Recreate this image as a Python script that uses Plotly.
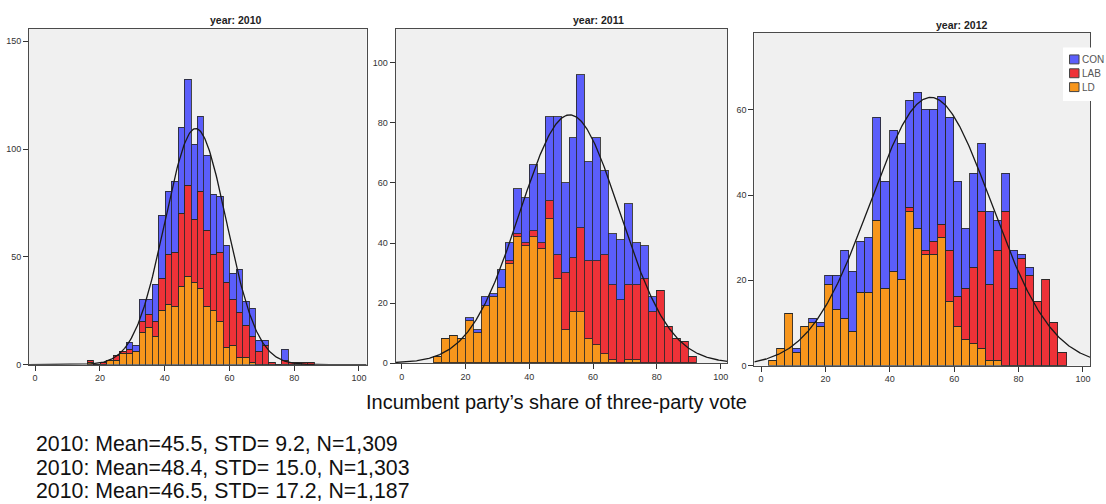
import numpy as np
import plotly.graph_objects as go

W, H = 1106, 504

# ---------------- data ----------------
years = ["2010", "2011", "2012"]
parties = ["CON", "LAB", "LD"]
party_colors = {"CON": "#5B5EFB", "LAB": "#EE3238", "LD": "#F7961C"}

# histogram bins: first bin start and bin width per year
bin_start = {"2010": 16.3, "2011": 10.0, "2012": 2.5}
bin_width = {"2010": 2.0, "2011": 2.5, "2012": 2.5}

ld_2010 = [1, 0, 0, 2, 2, 5, 5, 6, 15, 17, 13, 25, 28, 27, 36, 41, 38, 35, 27, 25, 20, 8, 9, 3, 3, 1, 0, 0, 0, 0, 0, 0, 0, 0, 0]
lab_2010 = [1, 0, 1, 0, 2, 1, 2, 0, 5, 6, 7, 15, 23, 25, 34, 42, 29, 45, 35, 26, 32, 30, 21, 21, 15, 12, 6, 9, 1, 0, 2, 1, 1, 1, 1]
con_2010 = [0, 0, 0, 0, 0, 0, 3, 3, 10, 7, 17, 29, 29, 33, 40, 49, 35, 35, 35, 28, 26, 17, 12, 20, 11, 13, 5, 2, 0, 0, 5, 0, 0, 0, 0]

ld_2011 = [2, 8, 9, 8, 14, 10, 19, 22, 25, 33, 42, 39, 42, 38, 48, 28, 11, 17, 17, 8, 6, 3, 1, 0, 1, 1, 0, 0, 0, 0, 0, 0, 0]
lab_2011 = [0, 0, 0, 0, 0, 0, 0, 0, 0, 1, 1, 1, 2, 2, 6, 8, 19, 18, 28, 26, 28, 33, 25, 21, 25, 25, 28, 17, 24, 12, 8, 7, 2]
con_2011 = [0, 0, 0, 0, 1, 1, 3, 1, 6, 6, 15, 15, 22, 23, 28, 46, 30, 40, 51, 33, 41, 28, 17, 20, 27, 14, 11, 5, 0, 0, 0, 0, 0]

ld_2012 = [1, 4, 12, 3, 9, 10, 9, 19, 13, 11, 8, 17, 17, 34, 18, 22, 20, 36, 32, 26, 26, 30, 15, 9, 6, 5, 4, 1, 1, 0, 0, 0, 0, 0, 0, 0, 0]
lab_2012 = [0, 0, 0, 0, 0, 0, 0, 0, 0, 0, 0, 0, 0, 0, 0, 0, 0, 1, 0, 1, 3, 3, 12, 7, 12, 18, 32, 18, 26, 36, 18, 25, 21, 15, 20, 10, 3]
con_2012 = [0, 0, 0, 1, 0, 1, 1, 2, 8, 16, 14, 12, 13, 24, 25, 33, 32, 25, 32, 33, 31, 30, 31, 27, 14, 22, 16, 17, 7, 9, 9, 1, 2, 0, 0, 0, 0]

counts = {
    "2010": {"CON": con_2010, "LAB": lab_2010, "LD": ld_2010},
    "2011": {"CON": con_2011, "LAB": lab_2011, "LD": ld_2011},
    "2012": {"CON": con_2012, "LAB": lab_2012, "LD": ld_2012},
}

# fitted normal curve: peak height, centre, spread
curve_peak = {"2010": 109.5, "2011": 82.7, "2012": 62.9}
curve_mean = {"2010": 49.6, "2011": 52.7, "2012": 52.7}
curve_sd = {"2010": 9.5, "2011": 15.7, "2012": 18.8}

x_ticks = [0, 20, 40, 60, 80, 100]
y_ticks = {"2010": [0, 50, 100, 150], "2011": [0, 20, 40, 60, 80, 100], "2012": [0, 20, 40, 60]}

x_title = "Incumbent party\u2019s share of three-party vote"
stat_lines = [
    "2010: Mean=45.5, STD= 9.2, N=1,309",
    "2010: Mean=48.4, STD= 15.0, N=1,303",
    "2010: Mean=46.5, STD= 17.2, N=1,187",
]

# ---------------- layout geometry (pixels) ----------------
panels = {
    "2010": dict(x0=29, x1=367, y0=29, y1=368.3, xr=[-1.9, 102.4], yr=[0, 155.8], title=(236.3, 20.5)),
    "2011": dict(x0=396, x1=728, y0=29.3, y1=366.7, xr=[-1.9, 102.1], yr=[0, 111.3], title=(599.3, 20.5)),
    "2012": dict(x0=755, x1=1091, y0=33.3, y1=369.3, xr=[-2.1, 102.2], yr=[0, 78.0], title=(963.2, 25)),
}


def px(x):
    return x / W


def py(y):
    return 1 - y / H


FONT = "Liberation Sans, Arial, sans-serif"
fig = go.Figure()
layout = dict(
    width=W, height=H,
    margin=dict(l=0, r=0, t=0, b=0),
    paper_bgcolor="white",
    plot_bgcolor="#F0F0F0",
    barmode="stack",
    bargap=0,
    showlegend=False,
    font=dict(family=FONT, color="#333333"),
)
annotations = []
shapes = []

for i, yr in enumerate(years):
    p = panels[yr]
    n = i + 1
    xa = "x" if n == 1 else f"x{n}"
    ya = "y" if n == 1 else f"y{n}"
    nbins = len(counts[yr]["LD"])
    bw = bin_width[yr]
    centers = [bin_start[yr] + bw * (k + 0.5) for k in range(nbins)]
    for party in ["LD", "LAB", "CON"]:
        fig.add_trace(go.Bar(
            x=centers, y=counts[yr][party], width=bw,
            marker=dict(color=party_colors[party], line=dict(color="rgba(40,40,40,0.85)", width=1)),
            name=party, xaxis=xa, yaxis=ya, showlegend=False,
        ))
    xs = np.linspace(p["xr"][0], p["xr"][1], 400)
    ys = curve_peak[yr] * np.exp(-0.5 * ((xs - curve_mean[yr]) / curve_sd[yr]) ** 2)
    fig.add_trace(go.Scatter(x=xs, y=ys, mode="lines", line=dict(color="#1a1a1a", width=1.3),
                             xaxis=xa, yaxis=ya, showlegend=False, hoverinfo="skip"))

    axis_common = dict(showgrid=False, zeroline=False, showline=True, mirror=True,
                       linecolor="#4a4a4a", linewidth=1, ticks="outside", ticklen=5,
                       tickcolor="#333333", tickwidth=1,
                       tickfont=dict(family=FONT, size=9, color="#333333"))
    layout["xaxis" if n == 1 else f"xaxis{n}"] = dict(
        domain=[px(p["x0"]), px(p["x1"])], range=p["xr"], anchor=ya,
        tickvals=x_ticks, ticktext=[str(t) for t in x_ticks], **axis_common)
    layout["yaxis" if n == 1 else f"yaxis{n}"] = dict(
        domain=[py(p["y1"]), py(p["y0"])], range=p["yr"], anchor=xa,
        tickvals=y_ticks[yr], ticktext=[str(t) for t in y_ticks[yr]], **axis_common)

    tx, ty = p["title"]
    annotations.append(dict(text=f"<b>year: {yr}</b>", x=px(tx), y=py(ty), xref="paper", yref="paper",
                            showarrow=False, xanchor="center", yanchor="middle",
                            font=dict(family=FONT, size=10.5, color="#222222")))

# legend (drawn manually, compact SPSS style)
shapes.append(dict(type="rect", xref="paper", yref="paper", x0=px(1064), x1=px(1106), y0=py(102), y1=py(48),
                   fillcolor="white", line=dict(width=0), layer="above"))
for j, party in enumerate(parties):
    cy = 60 + 14 * j
    shapes.append(dict(type="rect", xref="paper", yref="paper", x0=px(1070.5), x1=px(1080), y0=py(cy + 4.5), y1=py(cy - 4.5),
                       fillcolor=party_colors[party], line=dict(color="#444444", width=1), layer="above"))
    annotations.append(dict(text=party, x=px(1081), y=py(cy), xref="paper", yref="paper", showarrow=False,
                            xanchor="left", yanchor="middle", font=dict(family=FONT, size=10, color="#555555")))

annotations.append(dict(text=x_title, x=px(557), y=py(406), xref="paper", yref="paper", showarrow=False,
                        xanchor="center", yanchor="middle", font=dict(family=FONT, size=20, color="#111111")))
for j, line in enumerate(stat_lines):
    annotations.append(dict(text=line, x=px(34), y=py(448.5 + 23.8 * j), xref="paper", yref="paper", showarrow=False,
                            xanchor="left", yanchor="middle", font=dict(family=FONT, size=21.3, color="#111111")))

layout["annotations"] = annotations
layout["shapes"] = shapes
fig.update_layout(**layout)
fig.write_html("out.html", config={"displayModeBar": False},
               post_script="document.body.style.margin='0';document.body.style.overflow='hidden';")
